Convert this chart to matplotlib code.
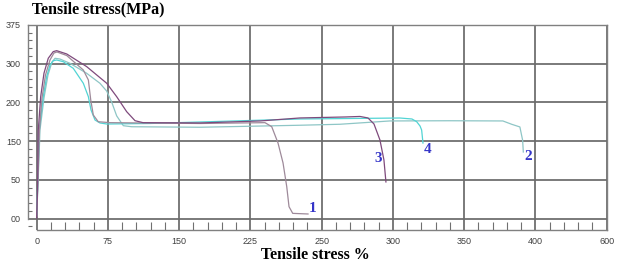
import matplotlib.pyplot as plt
from matplotlib.ticker import MultipleLocator, FixedLocator, FixedFormatter

# --- dados (strain %, stress MPa; 75 por divisão) ---
c1_x = [0, 1.37, 2.95, 5.58, 9.26, 14.0, 18.2, 21.4, 31.6, 49.1, 54.4, 56.9, 59.6, 64.8,
        77.2, 171.9, 240.3, 247.4, 254.0, 259.3, 263.2, 265.6, 269.5, 285.6]
c1_y = [5.2, 74.9, 171.6, 233.6, 278.1, 307.2, 320.8, 322.7, 315.9, 287.8, 268.5, 229.8, 200.7, 187.7,
        185.9, 184.3, 185.9, 178.1, 146.6, 107.9, 62.0, 23.2, 10.3, 9.1]

c2_x = [0, 1.37, 3.47, 7.68, 11.9, 16.1, 19.3, 24.5, 35.0, 52.6, 66.6, 73.7, 78.9, 84.2,
        91.2, 100.0, 172.0, 277.1, 319.2, 371.8, 434.9, 490.7, 499.9, 508.6, 511.5, 512.2]
c2_y = [5.2, 65.2, 171.6, 233.6, 278.1, 303.3, 310.5, 309.1, 300.8, 281.5, 262.1, 247.0, 226.0, 199.0,
        180.0, 178.0, 177.0, 180.9, 182.8, 189.2, 189.6, 189.2, 182.8, 177.6, 151.8, 129.1]

c3_x = [0, 0.84, 1.68, 4.21, 7.68, 12.2, 17.4, 21.0, 31.6, 52.6, 73.7, 84.2, 94.7, 103.5,
        111.9, 171.9, 235.0, 277.1, 324.5, 340.3, 348.7, 355.0, 361.3, 365.5, 367.6]
c3_y = [1.4, 55.6, 171.6, 236.2, 281.6, 310.6, 323.4, 325.3, 318.9, 294.4, 262.2, 236.2, 207.2, 189.7,
        185.9, 185.3, 189.2, 195.0, 196.9, 197.9, 195.0, 183.4, 152.4, 113.7, 71.1]

c4_x = [0, 0.84, 2.74, 6.95, 10.5, 14.0, 17.5, 21.0, 28.0, 38.5, 49.1, 54.4, 57.2, 61.4,
        66.6, 73.7, 119.3, 171.9, 277.1, 382.4, 395.0, 400.0, 403.5, 405.2, 406.6]
c4_y = [9.1, 55.6, 171.6, 236.2, 274.9, 297.5, 305.8, 307.2, 303.9, 291.1, 262.1, 236.2, 210.4, 191.0,
        185.3, 183.3, 184.3, 187.2, 193.0, 194.9, 193.0, 187.7, 179.4, 171.6, 146.4]

# rótulos das curvas (posição do texto)
rotulos = ['1', '2', '3', '4']
rot_x = [290.0, 517.6, 359.0, 411.6]
rot_y = [19.2, 120.0, 116.0, 133.6]

# rótulos dos eixos como aparecem na figura original
x_ticks = [0, 75, 150, 225, 300, 375, 450, 525, 600]
x_labels = ['0', '75', '150', '225', '250', '300', '350', '400', '600']
y_ticks = [0, 75, 150, 225, 300, 375]
y_labels = ['00', '50', '150', '200', '300', '375']

cores = ['#9e8a9a', '#8ec6c6', '#7e4a7c', '#52d4d4']

# --- figura ---
fig = plt.figure(figsize=(6.26, 2.68), dpi=100)
ax = fig.add_axes([0.0447, 0.1418, 0.9245, 0.765])

ax.plot(c2_x, c2_y, color=cores[1], lw=0.9)
ax.plot(c4_x, c4_y, color=cores[3], lw=0.9)
ax.plot(c1_x, c1_y, color=cores[0], lw=0.9)
ax.plot(c3_x, c3_y, color=cores[2], lw=0.9)

for t, x, y in zip(rotulos, rot_x, rot_y):
    ax.text(x, y, t, color='#3535c8', fontsize=11, fontweight='bold',
            family='Liberation Serif', ha='center', va='center')

ax.set_xlim(-9.16, 600)
ax.set_ylim(-21.9, 375)

ax.xaxis.set_major_locator(FixedLocator(x_ticks))
ax.xaxis.set_major_formatter(FixedFormatter(x_labels))
ax.yaxis.set_major_locator(FixedLocator(y_ticks))
ax.yaxis.set_major_formatter(FixedFormatter(y_labels))
ax.xaxis.set_minor_locator(MultipleLocator(15))
ax.yaxis.set_minor_locator(MultipleLocator(15))

ax.tick_params(which='major', length=0, labelsize=6.5, labelcolor='#404040', pad=5)
ax.tick_params(axis='x', which='minor', direction='in', length=5.8, width=0.8, color='#707070')
ax.tick_params(axis='y', which='minor', direction='in', length=3, width=0.8, color='#707070')
for lab in ax.get_xticklabels() + ax.get_yticklabels():
    lab.set_family('Liberation Sans')

ax.grid(True, which='major', color='#6a6a6a', lw=1.25)
ax.set_axisbelow(True)

for s in ax.spines.values():
    s.set_color('#808080')
    s.set_linewidth(1.0)
ax.spines['left'].set_bounds(0, 375)
ax.spines['bottom'].set_bounds(0, 600)

fig.text(31.7 / 626, 1 - 9.5 / 268, 'Tensile stress(MPa)', family='Liberation Serif',
         fontweight='bold', fontsize=11.5, ha='left', va='center')
fig.text(315 / 626, 1 - 255 / 268, 'Tensile stress %', family='Liberation Serif',
         fontweight='bold', fontsize=11.5, ha='center', va='center')

plt.savefig('out.png', dpi=100)
plt.close()
